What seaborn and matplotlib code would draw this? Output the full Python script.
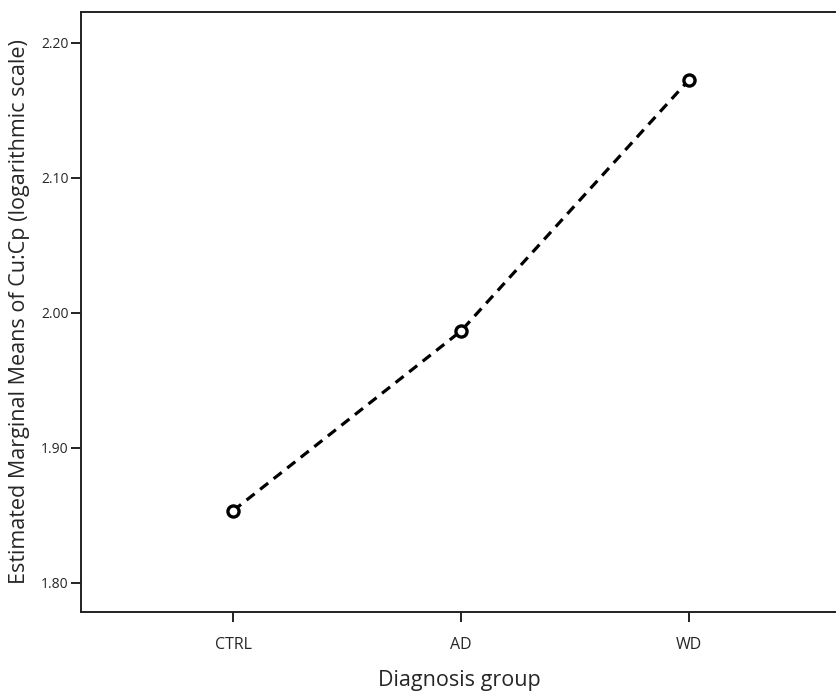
import matplotlib
matplotlib.use("Agg")
import matplotlib.pyplot as plt
import seaborn as sns
import pandas as pd

groups = ["CTRL", "AD", "WD"]
means = [1.8533, 1.9864, 2.1724]
yticks = [1.80, 1.90, 2.00, 2.10, 2.20]

sns.set_style("ticks")
plt.rcParams['font.family'] = ['Open Sans', 'DejaVu Sans']

df = pd.DataFrame({"group": groups, "mean": means})

fig = plt.figure(figsize=(8.37, 6.93), dpi=100)
ax = fig.add_axes([81/837, 81/693, (837-81)/837, (612-11.7)/693])

sns.lineplot(data=df, x="group", y="mean", ax=ax, color="black",
             linestyle=(0, (3.2, 2.2)), linewidth=2.3, marker="o",
             markersize=8, markerfacecolor="white", markeredgecolor="black",
             markeredgewidth=2.4, sort=False)

ax.set_xlim(-0.667, 2.65)
ax.set_ylim(1.7783, 2.223)
ax.set_yticks(yticks)
ax.set_yticklabels([f"{v:.2f}" for v in yticks], fontsize=10)
ax.tick_params(axis="x", labelsize=11.5, length=7, width=1.4, pad=11, color="#222222")
ax.tick_params(axis="y", length=7, width=1.4, pad=2, color="#222222")
for s in ["left", "bottom", "top"]:
    ax.spines[s].set_linewidth(1.4)
    ax.spines[s].set_color("#222222")
ax.spines["right"].set_visible(False)

ax.set_xlabel("Diagnosis group", fontsize=15.5, labelpad=12)
ax.set_ylabel("Estimated Marginal Means of Cu:Cp (logarithmic scale)", fontsize=15.5, labelpad=8)

fig.savefig("out.png", dpi=100)
